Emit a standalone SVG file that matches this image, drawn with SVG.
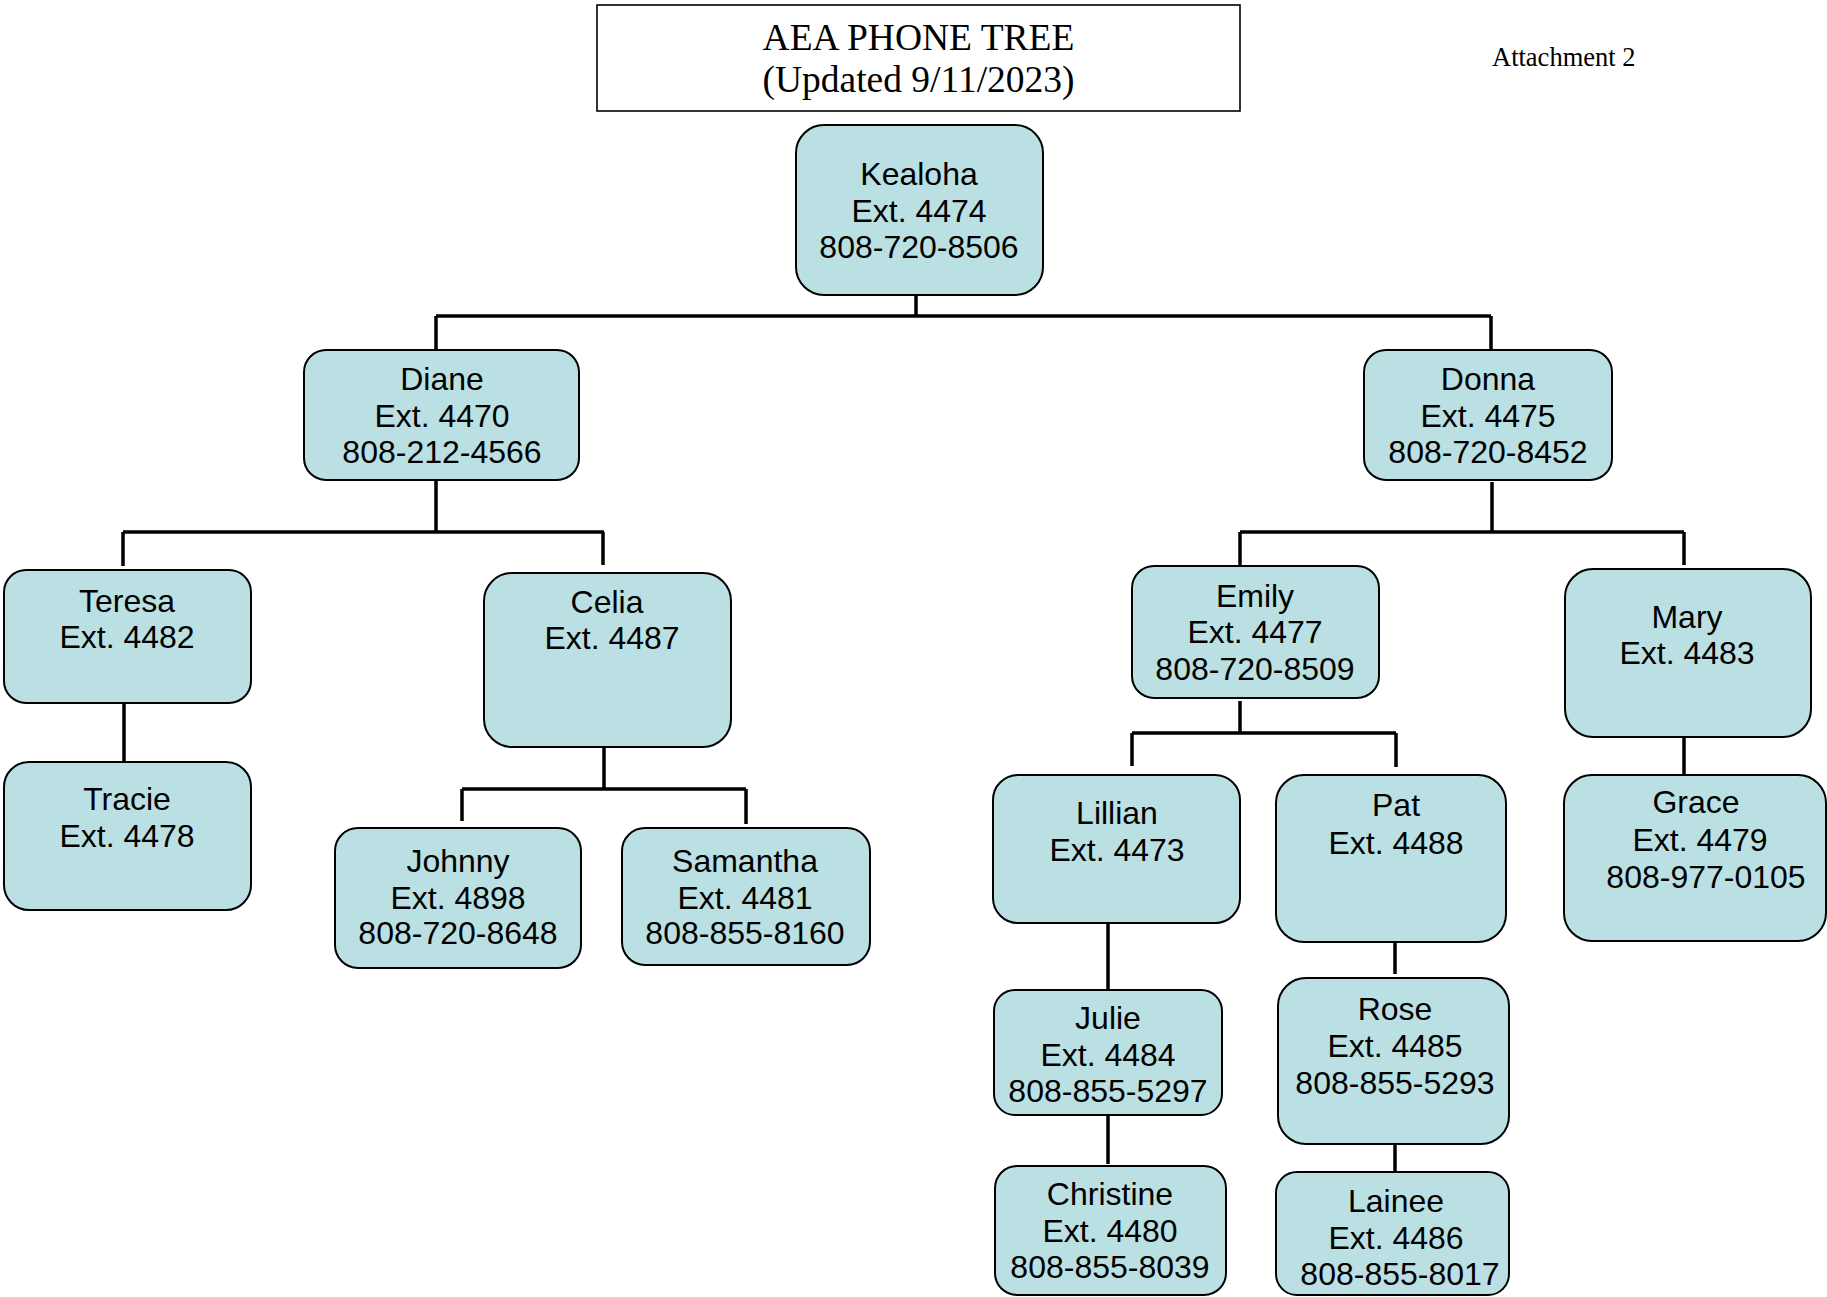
<svg xmlns="http://www.w3.org/2000/svg" width="1827" height="1297" viewBox="0 0 1827 1297">
<style>
.bg{fill:#ffffff}
.title{fill:#ffffff;stroke:#000;stroke-width:1.6}
.tt{font-family:"Liberation Serif","Times New Roman",serif;font-size:37.5px;fill:#000;text-anchor:middle}
.att{font-family:"Liberation Serif","Times New Roman",serif;font-size:26.5px;fill:#000}
.box{fill:#BBE0E3;stroke:#000;stroke-width:2}
.t{font-family:"Liberation Sans",Arial,sans-serif;font-size:32px;fill:#000;text-anchor:middle}
.c{fill:none;stroke:#000;stroke-width:3.5;stroke-linecap:butt}
</style>
<rect class="bg" x="0" y="0" width="1827" height="1297"/>
<g id="title">
<rect class="title" x="597" y="5" width="643" height="106"/>
<text class="tt" x="918.5" y="50">AEA PHONE TREE</text>
<text class="tt" x="918.5" y="92">(Updated 9/11/2023)</text>
</g>
<g id="attachment"><text class="att" x="1492" y="66">Attachment 2</text></g>
<g id="connectors">
<path class="c" d="M916 295V316M436 316H1491M436 316V350M1491 316V350"/>
<path class="c" d="M436 480V532M123 532H604M123 532V566M603 532V565"/>
<path class="c" d="M1492 482V532M1240 532H1684M1240 532V565M1684 532V565"/>
<path class="c" d="M124 703V762"/>
<path class="c" d="M604 747V789M462 789H746M462 789V821M746 789V824"/>
<path class="c" d="M1240 701V733M1132 733H1396M1132 733V766M1396 733V767"/>
<path class="c" d="M1684 737V775"/>
<path class="c" d="M1108 923V990"/>
<path class="c" d="M1108 1115V1164"/>
<path class="c" d="M1395 942V974"/>
<path class="c" d="M1395 1145V1172"/>
</g>
<g id="kealoha"><rect class="box" x="796" y="125" width="247" height="170" rx="28"/>
<text class="t" x="919" y="185">Kealoha</text><text class="t" x="919" y="222">Ext. 4474</text><text class="t" x="919" y="258">808-720-8506</text></g>
<g id="diane"><rect class="box" x="304" y="350" width="275" height="130" rx="22"/>
<text class="t" x="442" y="390">Diane</text><text class="t" x="442" y="427">Ext. 4470</text><text class="t" x="442" y="463">808-212-4566</text></g>
<g id="donna"><rect class="box" x="1364" y="350" width="248" height="130" rx="22"/>
<text class="t" x="1488" y="390">Donna</text><text class="t" x="1488" y="427">Ext. 4475</text><text class="t" x="1488" y="463">808-720-8452</text></g>
<g id="teresa"><rect class="box" x="4" y="570" width="247" height="133" rx="22"/>
<text class="t" x="127" y="612">Teresa</text><text class="t" x="127" y="648">Ext. 4482</text></g>
<g id="celia"><rect class="box" x="484" y="573" width="247" height="174" rx="28"/>
<text class="t" x="607" y="613">Celia</text><text class="t" x="612" y="649">Ext. 4487</text></g>
<g id="tracie"><rect class="box" x="4" y="762" width="247" height="148" rx="25"/>
<text class="t" x="127" y="810">Tracie</text><text class="t" x="127" y="847">Ext. 4478</text></g>
<g id="johnny"><rect class="box" x="335" y="828" width="246" height="140" rx="23"/>
<text class="t" x="458" y="872">Johnny</text><text class="t" x="458" y="909">Ext. 4898</text><text class="t" x="458" y="944">808-720-8648</text></g>
<g id="samantha"><rect class="box" x="622" y="828" width="248" height="137" rx="23"/>
<text class="t" x="745" y="872">Samantha</text><text class="t" x="745" y="909">Ext. 4481</text><text class="t" x="745" y="944">808-855-8160</text></g>
<g id="emily"><rect class="box" x="1132" y="566" width="247" height="132" rx="22"/>
<text class="t" x="1255" y="607">Emily</text><text class="t" x="1255" y="643">Ext. 4477</text><text class="t" x="1255" y="680">808-720-8509</text></g>
<g id="mary"><rect class="box" x="1565" y="569" width="246" height="168" rx="28"/>
<text class="t" x="1687" y="628">Mary</text><text class="t" x="1687" y="664">Ext. 4483</text></g>
<g id="lillian"><rect class="box" x="993" y="775" width="247" height="148" rx="25"/>
<text class="t" x="1117" y="824">Lillian</text><text class="t" x="1117" y="861">Ext. 4473</text></g>
<g id="pat"><rect class="box" x="1276" y="775" width="230" height="167" rx="28"/>
<text class="t" x="1396" y="816">Pat</text><text class="t" x="1396" y="854">Ext. 4488</text></g>
<g id="grace"><rect class="box" x="1564" y="775" width="262" height="166" rx="28"/>
<text class="t" x="1696" y="813">Grace</text><text class="t" x="1700" y="851">Ext. 4479</text><text class="t" x="1706" y="888">808-977-0105</text></g>
<g id="julie"><rect class="box" x="994" y="990" width="228" height="125" rx="21"/>
<text class="t" x="1108" y="1029">Julie</text><text class="t" x="1108" y="1066">Ext. 4484</text><text class="t" x="1108" y="1102">808-855-5297</text></g>
<g id="christine"><rect class="box" x="995" y="1166" width="231" height="129" rx="22"/>
<text class="t" x="1110" y="1205">Christine</text><text class="t" x="1110" y="1242">Ext. 4480</text><text class="t" x="1110" y="1278">808-855-8039</text></g>
<g id="rose"><rect class="box" x="1278" y="978" width="231" height="166" rx="28"/>
<text class="t" x="1395" y="1020">Rose</text><text class="t" x="1395" y="1057">Ext. 4485</text><text class="t" x="1395" y="1094">808-855-5293</text></g>
<g id="lainee"><rect class="box" x="1276" y="1172" width="233" height="123" rx="21"/>
<text class="t" x="1396" y="1212">Lainee</text><text class="t" x="1396" y="1249">Ext. 4486</text><text class="t" x="1400" y="1285">808-855-8017</text></g>
</svg>
